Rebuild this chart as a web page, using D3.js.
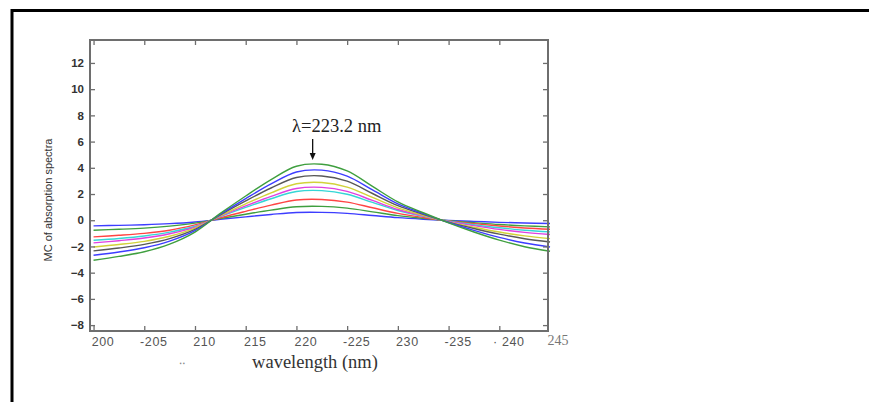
<!DOCTYPE html>
<html>
<head>
<meta charset="utf-8">
<script src="https://cdn.jsdelivr.net/npm/d3@7"></script>
<style>
  html, body { margin: 0; padding: 0; background: #fff; }
  svg { display: block; }
</style>
</head>
<body>
<svg id="chart" width="869" height="402"></svg>
<script>
// Wavelength grid (nm)
const wavelengths = [200, 202.5, 205, 207.5, 210, 212.5, 215, 217.5, 220, 222.5, 225, 227.5, 230, 232.5, 235, 237.5, 240, 242.5, 245];

// Mean-centred absorption spectra, one per concentration level
const s1 = [-0.43, -0.39, -0.34, -0.26, -0.13, 0.07, 0.26, 0.44, 0.59, 0.60, 0.52, 0.36, 0.20, 0.08, -0.02, -0.09, -0.16, -0.21, -0.25];
const s2 = [-0.76, -0.69, -0.60, -0.45, -0.22, 0.13, 0.46, 0.77, 1.03, 1.06, 0.92, 0.64, 0.35, 0.14, -0.04, -0.19, -0.33, -0.43, -0.51];
const s3 = [-1.27, -1.15, -1.00, -0.76, -0.35, 0.19, 0.68, 1.15, 1.54, 1.58, 1.38, 0.95, 0.52, 0.21, -0.06, -0.26, -0.44, -0.59, -0.69];
const s4 = [-1.53, -1.39, -1.20, -0.91, -0.46, 0.28, 0.98, 1.64, 2.19, 2.26, 1.98, 1.36, 0.74, 0.30, -0.08, -0.34, -0.57, -0.76, -0.89];
const s5 = [-1.73, -1.56, -1.36, -1.03, -0.52, 0.31, 1.09, 1.82, 2.42, 2.51, 2.20, 1.51, 0.82, 0.33, -0.09, -0.41, -0.70, -0.93, -1.09];
const s6 = [-2.04, -1.85, -1.61, -1.22, -0.60, 0.35, 1.25, 2.09, 2.78, 2.88, 2.53, 1.74, 0.94, 0.38, -0.12, -0.53, -0.90, -1.19, -1.40];
const s7 = [-2.34, -2.12, -1.84, -1.40, -0.70, 0.41, 1.47, 2.46, 3.26, 3.38, 2.98, 2.04, 1.11, 0.45, -0.14, -0.63, -1.06, -1.41, -1.66];
const s8 = [-2.67, -2.42, -2.10, -1.59, -0.79, 0.46, 1.65, 2.77, 3.68, 3.82, 3.36, 2.31, 1.25, 0.51, -0.17, -0.77, -1.31, -1.74, -2.04];
const s9 = [-3.05, -2.76, -2.40, -1.82, -0.90, 0.52, 1.85, 3.10, 4.12, 4.27, 3.76, 2.58, 1.40, 0.57, -0.20, -0.90, -1.52, -2.02, -2.37];
const seriesList = [s1, s2, s3, s4, s5, s6, s7, s8, s9];
const seriesColors = ["#3d3dff", "#3f9f3f", "#ff4444", "#35d6d6", "#e040e0", "#d2d23a", "#585858", "#3d3dff", "#3f9f3f"];

// Axis ticks and their printed labels
const xTicks = [200, 205, 210, 215, 220, 225, 230, 235, 240];
const xTickLabels = ["200", "-205", "210", "215", "220", "-225", "230", "-235", "\u00b7 240"];
const yTicks = [-8, -6, -4, -2, 0, 2, 4, 6, 8, 10, 12];

// Peak annotation
const peakText = "\u03bb=223.2 nm";
const arrowX = 221.6;

const svg = d3.select("#chart");
const W = 869, H = 402;
const plotLeft = 90, plotRight = 548, plotTop = 40, plotBottom = 331;

const x = d3.scaleLinear().domain([199.65, 244.8]).range([plotLeft, plotRight]);
const y = d3.scaleLinear().domain([-8.45, 13.75]).range([plotBottom, plotTop]);

// Page frame (top and left rules)
svg.append("path")
  .attr("d", `M12,${H} L12,10.5 L${W},10.5`)
  .attr("fill", "none")
  .attr("stroke", "#000")
  .attr("stroke-width", 3);

// Curves
const line = d3.line()
  .x((d, i) => x(wavelengths[i]))
  .y(d => y(d))
  .curve(d3.curveCatmullRom.alpha(0.5));

svg.append("g")
  .selectAll("path")
  .data(seriesList)
  .join("path")
  .attr("d", d => line(d))
  .attr("fill", "none")
  .attr("stroke", (d, i) => seriesColors[i])
  .attr("stroke-width", 1.4);

// Axes with inward ticks on all four sides
const axisColor = "#6e6e6e";
function styleAxis(g) {
  g.select(".domain").remove();
  g.selectAll(".tick line").attr("stroke", axisColor).attr("stroke-width", 1.3);
}

svg.append("g")
  .attr("transform", `translate(0,${plotBottom})`)
  .call(d3.axisBottom(x).tickValues(xTicks).tickSize(-5).tickPadding(6)
        .tickFormat((d, i) => xTickLabels[i]))
  .call(styleAxis)
  .call(g => g.selectAll("text")
    .attr("dx", 9)
    .attr("fill", "#555")
    .attr("font-family", "Liberation Sans, Arial, sans-serif")
    .attr("font-size", 12.5)
    .attr("letter-spacing", 0.6));

svg.append("g")
  .attr("transform", `translate(0,${plotTop})`)
  .call(d3.axisTop(x).tickValues(xTicks).tickSize(-5).tickFormat(""))
  .call(styleAxis);

svg.append("g")
  .attr("transform", `translate(${plotLeft},0)`)
  .call(d3.axisLeft(y).tickValues(yTicks).tickSize(-5).tickPadding(6))
  .call(styleAxis)
  .call(g => g.selectAll("text")
    .attr("fill", "#333")
    .attr("font-family", "Liberation Sans, Arial, sans-serif")
    .attr("font-weight", "bold")
    .attr("font-size", 11.5));

svg.append("g")
  .attr("transform", `translate(${plotRight},0)`)
  .call(d3.axisRight(y).tickValues(yTicks).tickSize(-5).tickFormat(""))
  .call(styleAxis);

// Plot box
svg.append("rect")
  .attr("x", plotLeft).attr("y", plotTop)
  .attr("width", plotRight - plotLeft).attr("height", plotBottom - plotTop)
  .attr("fill", "none")
  .attr("stroke", axisColor)
  .attr("stroke-width", 2);

// End label of the wavelength axis
svg.append("text")
  .attr("x", plotRight + 10).attr("y", 345)
  .attr("text-anchor", "middle")
  .attr("font-family", "Liberation Serif, Times New Roman, serif")
  .attr("font-size", 14)
  .attr("fill", "#777")
  .text("245");

// Axis titles
svg.append("text")
  .attr("transform", "rotate(-90)")
  .attr("x", -200).attr("y", 52)
  .attr("text-anchor", "middle")
  .attr("font-family", "Liberation Sans, Arial, sans-serif")
  .attr("font-size", 11)
  .attr("fill", "#333")
  .text("MC of absorption spectra");

svg.append("text")
  .attr("x", 315).attr("y", 368)
  .attr("text-anchor", "middle")
  .attr("font-family", "Liberation Serif, Times New Roman, serif")
  .attr("font-size", 18.5)
  .attr("fill", "#333")
  .text("wavelength (nm)");

svg.append("text")
  .attr("x", 183).attr("y", 364)
  .attr("text-anchor", "middle")
  .attr("font-family", "Liberation Sans, Arial, sans-serif")
  .attr("font-size", 12)
  .attr("letter-spacing", 2)
  .attr("fill", "#888")
  .text("\u2025");

// Peak annotation with arrow
const ax = x(arrowX);
svg.append("text")
  .attr("x", ax + 24).attr("y", 132)
  .attr("text-anchor", "middle")
  .attr("font-family", "Liberation Serif, Times New Roman, serif")
  .attr("font-size", 18.5)
  .attr("fill", "#222")
  .text(peakText);

svg.append("line")
  .attr("x1", ax).attr("x2", ax)
  .attr("y1", 139).attr("y2", 154)
  .attr("stroke", "#111").attr("stroke-width", 1.3);
svg.append("path")
  .attr("d", `M${ax - 3},153 L${ax + 3},153 L${ax},160 Z`)
  .attr("fill", "#111");
</script>
</body>
</html>
